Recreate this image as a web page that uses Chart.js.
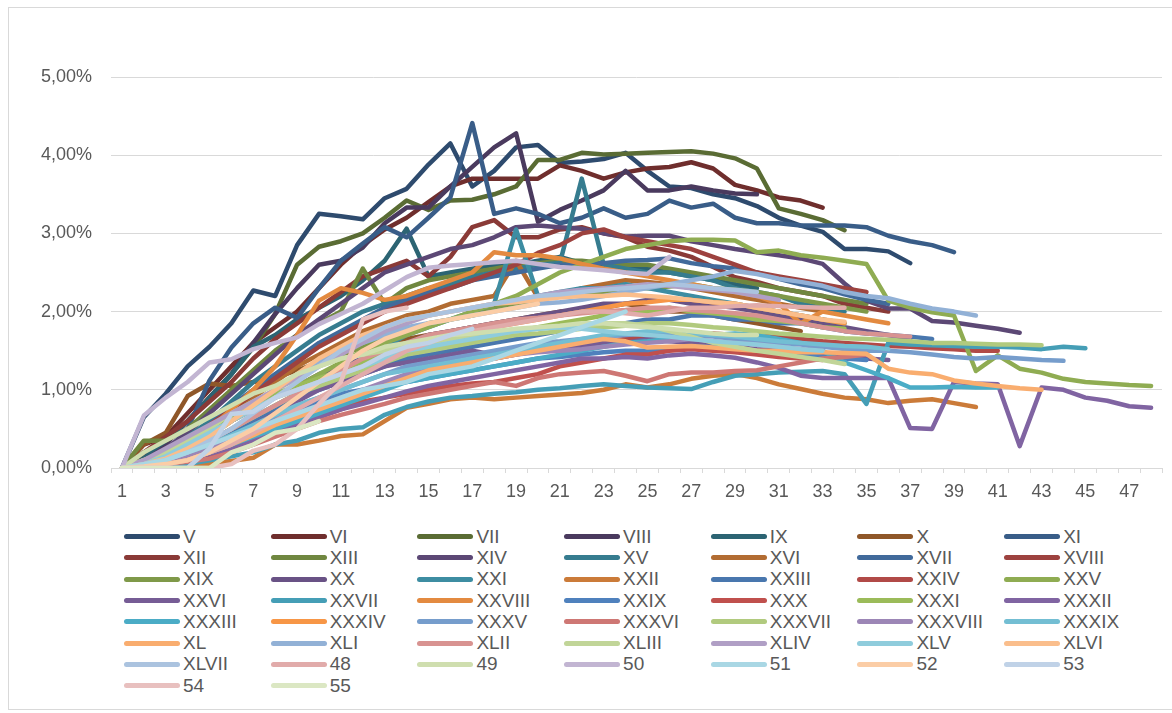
<!DOCTYPE html>
<html>
<head>
<meta charset="utf-8">
<script src="https://cdn.jsdelivr.net/npm/chart.js@4/dist/chart.umd.min.js"></script>
<style>
  body { margin: 0; background: #fff; font-family: "Liberation Sans", Arial, sans-serif; }
  #frame { position: absolute; left: 8px; top: 7px; width: 1170px; height: 703px; border: 1px solid #d9d9d9; box-sizing: border-box; }
  #wrap { position: absolute; left: 0; top: 0; width: 1172px; height: 505px; }
  #legend { position: absolute; left: 124px; top: 526px; display: grid; grid-template-columns: repeat(7, 146.7px); grid-auto-rows: 21.3px; }
  .item { display: flex; align-items: center; font-size: 19px; color: #595959; white-space: nowrap; }
  .swatch { display: inline-block; width: 56px; height: 5px; border-radius: 3px; margin-right: 3px; }
</style>
</head>
<body>
<div id="frame"></div>
<div id="wrap"><canvas id="chart"></canvas></div>
<div id="legend"></div>
<script>
// categorias del eje x
const categories = [];
for (let i = 1; i <= 48; i++) categories.push(String(i));

const seriesNames = ['V','VI','VII','VIII','IX','X','XI','XII','XIII','XIV','XV','XVI','XVII','XVIII','XIX','XX',
  'XXI','XXII','XXIII','XXIV','XXV','XXVI','XXVII','XXVIII','XXIX','XXX','XXXI','XXXII','XXXIII','XXXIV','XXXV',
  'XXXVI','XXXVII','XXXVIII','XXXIX','XL','XLI','XLII','XLIII','XLIV','XLV','XLVI','XLVII','48','49','50','51','52','53','54','55'];

// valores en %
const sV = [0,0.65,0.95,1.3,1.55,1.85,2.27,2.2,2.85,3.25,3.22,3.18,3.45,3.57,3.88,4.15,3.6,3.8,4.1,4.13,3.9,3.92,3.95,4.03,3.8,3.6,3.58,3.5,3.45,3.35,3.2,3.1,3.02,2.8,2.8,2.77,2.62];
const sVI = [0,0.3,0.4,0.7,1.0,1.3,1.6,1.8,2.0,2.3,2.6,2.85,3.05,3.2,3.4,3.6,3.7,3.7,3.7,3.7,3.87,3.8,3.7,3.78,3.83,3.85,3.91,3.83,3.62,3.55,3.46,3.42,3.33];
const sVII = [0,0.2,0.35,0.6,0.9,1.2,1.54,1.97,2.6,2.83,2.9,3.0,3.2,3.42,3.3,3.42,3.43,3.5,3.6,3.94,3.94,4.03,4.01,4.02,4.03,4.04,4.05,4.02,3.96,3.83,3.32,3.25,3.17,3.04];
const sVIII = [0,0.1,0.3,0.6,0.9,1.2,1.6,1.97,2.3,2.6,2.65,2.82,3.13,3.33,3.33,3.6,3.85,4.1,4.28,3.15,3.3,3.42,3.55,3.8,3.55,3.55,3.6,3.55,3.51,3.5];
const sIX = [0,0.15,0.35,0.6,0.9,1.2,1.55,1.7,1.9,2.05,2.2,2.4,2.65,3.06,2.45,2.5,2.55,2.6,2.6,2.65,2.7,2.62,2.6,2.58,2.55,2.5,2.45,2.4,2.35,2.3];
const sX = [0,0.3,0.45,0.92,1.08,1.05,1.1,1.15,1.25,1.35,1.45,1.55,1.6,1.65,1.7,1.75,1.8,1.85,1.9,1.95,2.0,2.0,2.05,2.1,2.05,2.0,2.0,1.95,1.9,1.85,1.8,1.75];
const sXI = [0,0.1,0.2,0.5,1.12,1.54,1.85,2.05,1.92,2.3,2.65,2.87,3.08,2.95,3.2,3.46,4.41,3.25,3.32,3.25,3.13,3.2,3.32,3.2,3.25,3.42,3.33,3.38,3.2,3.13,3.13,3.1,3.1,3.1,3.08,2.97,2.9,2.85,2.76];
const sXII = [0,0.2,0.4,0.6,0.85,1.1,1.4,1.65,1.85,2.05,2.25,2.45,2.55,2.65,2.45,2.7,3.08,3.17,2.95,2.95,3.05,3.08,3.0,2.95,2.83,2.78,2.7,2.57,2.44,2.38,2.3,2.25,2.2,2.1,2.05,2.0];
const sXIII = [0,0.35,0.35,0.5,0.75,1.0,1.25,1.5,1.7,1.85,2.0,2.55,2.1,2.3,2.4,2.45,2.5,2.55,2.6,2.62,2.65,2.65,2.62,2.6,2.6,2.55,2.5,2.45,2.4,2.35,2.3,2.25,2.2,2.15,2.1];
const sXIV = [0,0.1,0.25,0.45,0.7,0.95,1.2,1.45,1.7,1.9,2.1,2.3,2.5,2.6,2.7,2.8,2.85,2.95,3.08,3.1,3.08,3.06,3.0,2.96,2.97,2.97,2.9,2.85,2.8,2.76,2.72,2.68,2.61,2.36,2.14,2.04,2.04,1.88,1.86,1.82,1.78,1.73];
const sXV = [0,0.1,0.2,0.4,0.6,0.85,1.1,1.3,1.5,1.7,1.85,2.0,2.1,2.2,2.3,2.35,2.45,2.5,2.55,2.6,2.62,3.7,2.6,2.55,2.5,2.5,2.45,2.4,2.3,2.25,2.2,2.1,2.05,2.0];
const sXVI = [0,0.05,0.15,0.3,0.5,0.7,0.9,1.1,1.3,1.45,1.6,1.75,1.85,1.95,2.0,2.1,2.15,2.2,2.65,2.18,2.2,2.3,2.35,2.4,2.38,2.35,2.3,2.25,2.2,2.15,2.1,2.05,2.0];
const sXVII = [0,0.05,0.15,0.35,0.55,0.8,1.0,1.2,1.4,1.6,1.75,1.9,2.05,2.15,2.25,2.3,2.4,2.45,2.5,2.55,2.6,2.6,2.62,2.65,2.66,2.68,2.62,2.58,2.55,2.5,2.42,2.35,2.3,2.22,2.15,2.1];
const sXVIII = [0,0.1,0.2,0.35,0.55,0.75,0.95,1.15,1.35,1.55,1.7,1.85,2.0,2.1,2.2,2.3,2.4,2.5,2.6,2.75,2.85,3.0,3.05,2.95,2.9,2.85,2.8,2.7,2.6,2.5,2.45,2.4,2.35,2.3,2.25];
const sXIX = [0,0.05,0.1,0.25,0.4,0.6,0.8,1.0,1.15,1.3,1.45,1.55,1.65,1.75,1.85,1.9,1.95,2.05,2.1,2.15,2.2,2.22,2.25,2.3,2.3,2.32,2.35,2.3,2.28,2.25,2.2,2.15,2.1,2.05,2.0];
const sXX = [0,0.05,0.15,0.3,0.45,0.6,0.75,0.9,1.05,1.2,1.3,1.4,1.5,1.6,1.7,1.75,1.8,1.85,1.9,1.95,2.0,2.05,2.1,2.1,2.15,2.15,2.1,2.08,2.05,2.0,1.95,1.9,1.85,1.8,1.75,1.7,1.65];
const sXXI = [0,0.05,0.1,0.2,0.35,0.5,0.65,0.8,0.95,1.1,1.25,1.4,1.55,1.7,1.8,1.9,2.0,2.1,3.05,2.2,2.25,2.3,2.3,2.35,2.3,2.25,2.2,2.15,2.1,2.05,2.0,1.95,1.9,1.85];
const sXXII = [0,0,0.02,0.05,0.05,0.09,0.13,0.3,0.3,0.35,0.41,0.43,0.6,0.77,0.82,0.88,0.9,0.88,0.9,0.92,0.94,0.96,1.0,1.07,1.03,1.07,1.14,1.18,1.2,1.15,1.07,1.01,0.95,0.9,0.88,0.83,0.86,0.88,0.83,0.78];
const sXXIII = [0,0.05,0.1,0.2,0.3,0.45,0.6,0.75,0.9,1.0,1.1,1.2,1.3,1.4,1.45,1.5,1.55,1.6,1.65,1.7,1.75,1.8,1.85,1.85,1.9,1.9,1.95,1.95,1.9,1.9,1.85,1.85,1.8,1.75,1.72,1.7,1.68,1.65];
const sXXIV = [0,0.02,0.05,0.1,0.2,0.3,0.42,0.55,0.65,0.75,0.85,0.95,1.05,1.15,1.22,1.3,1.35,1.4,1.45,1.5,1.55,1.6,1.62,1.65,1.68,1.7,1.72,1.72,1.7,1.7,1.68,1.65,1.62,1.6,1.58,1.56,1.55,1.53,1.52,1.5,1.5];
const sXXV = [0,0.05,0.15,0.3,0.45,0.6,0.75,0.9,1.05,1.2,1.35,1.5,1.6,1.7,1.8,1.9,2.0,2.1,2.2,2.35,2.5,2.6,2.7,2.8,2.85,2.9,2.92,2.92,2.91,2.76,2.78,2.72,2.69,2.65,2.61,2.14,2.05,1.99,1.95,1.24,1.44,1.27,1.22,1.14,1.1,1.08,1.06,1.05];
const sXXVI = [0,0.02,0.08,0.15,0.25,0.4,0.55,0.7,0.85,1.0,1.1,1.2,1.3,1.35,1.4,1.45,1.5,1.45,1.5,1.55,1.5,1.55,1.6,1.6,1.65,1.62,1.6,1.58,1.55,1.52,1.5,1.48,1.45,1.42,1.4,1.38];
const sXXVII = [0,0,0.02,0.05,0.1,0.15,0.2,0.3,0.35,0.45,0.5,0.52,0.68,0.78,0.85,0.9,0.92,0.95,0.97,1.0,1.02,1.05,1.07,1.05,1.03,1.02,1.01,1.1,1.18,1.2,1.22,1.23,1.24,1.2,0.82,1.6,1.58,1.57,1.56,1.55,1.55,1.54,1.52,1.55,1.53];
const sXXVIII = [0,0.05,0.15,0.3,0.5,0.75,1.0,1.3,1.7,2.14,2.3,2.24,2.15,2.2,2.3,2.4,2.5,2.76,2.72,2.72,2.68,2.61,2.55,2.5,2.45,2.4,2.35,2.3,2.25,2.2,2.1,1.85,2.0,1.95,1.9,1.85];
const sXXIX = [0,0.02,0.05,0.1,0.2,0.3,0.45,0.6,0.75,0.85,0.95,1.0,1.05,1.1,1.15,1.2,1.25,1.3,1.35,1.4,1.42,1.45,1.48,1.5,1.5,1.52,1.55,1.55,1.5,1.48,1.45,1.45,1.42,1.4,1.38];
const sXXX = [0,0.02,0.05,0.1,0.15,0.25,0.35,0.45,0.55,0.65,0.75,0.85,0.9,0.95,1.0,1.05,1.08,1.1,1.15,1.2,1.3,1.35,1.4,1.45,1.45,1.5,1.52,1.5,1.48,1.45,1.42,1.4,1.38];
const sXXXI = [0,0.1,0.2,0.35,0.5,0.65,0.8,0.95,1.05,1.15,1.25,1.35,1.45,1.5,1.55,1.6,1.65,1.7,1.75,1.8,1.85,1.9,1.95,2.0,2.0,2.05,2.0,1.98,1.95,1.9,1.88,1.85,1.8,1.78];
const sXXXII = [0,0.02,0.05,0.1,0.18,0.25,0.35,0.45,0.55,0.65,0.75,0.82,0.9,0.98,1.05,1.1,1.15,1.2,1.25,1.3,1.35,1.4,1.4,1.42,1.4,1.44,1.46,1.44,1.41,1.35,1.28,1.18,1.15,1.15,1.15,1.15,0.51,0.5,1.1,1.08,1.07,0.28,1.03,1.0,0.9,0.86,0.79,0.77];
const sXXXIII = [0,0.02,0.05,0.1,0.2,0.3,0.4,0.5,0.6,0.7,0.8,0.9,1.0,1.1,1.15,1.2,1.25,1.3,1.35,1.4,1.45,1.5,1.55,1.6,1.62,1.65,1.68,1.7,1.72,1.7,1.65,1.6,1.5,1.35,1.25,1.15,1.03,1.03,1.04,1.03,1.03];
const sXXXIV = [0,0.05,0.15,0.3,0.45,0.6,0.75,0.9,1.0,1.1,1.2,1.3,1.4,1.5,1.6,1.7,1.75,1.8,1.85,1.9,1.95,2.0,2.05,2.1,2.12,2.15,2.15,2.12,2.1,2.05,2.0,1.95,1.9,1.85];
const sXXXV = [0,0.02,0.08,0.15,0.25,0.35,0.5,0.65,0.8,0.9,1.0,1.1,1.2,1.3,1.35,1.4,1.45,1.5,1.55,1.6,1.62,1.65,1.68,1.7,1.72,1.72,1.7,1.68,1.65,1.62,1.6,1.58,1.55,1.52,1.5,1.5,1.48,1.45,1.42,1.4,1.42,1.4,1.38,1.37];
const sXXXVI = [0,0.02,0.05,0.08,0.12,0.2,0.3,0.4,0.5,0.6,0.68,0.75,0.82,0.9,0.95,1.0,1.05,1.1,1.05,1.15,1.2,1.22,1.24,1.18,1.11,1.2,1.22,1.22,1.24,1.25,1.3,1.35,1.4,1.42,1.45];
const sXXXVII = [0,0.05,0.1,0.2,0.35,0.5,0.65,0.8,0.95,1.05,1.15,1.25,1.35,1.45,1.5,1.55,1.6,1.65,1.7,1.72,1.75,1.78,1.8,1.82,1.85,1.85,1.83,1.8,1.78,1.75,1.72,1.7,1.68,1.66,1.65,1.64,1.62,1.6,1.6,1.59,1.58,1.58,1.57];
const sXXXVIII = [0,0.02,0.08,0.15,0.25,0.35,0.5,0.6,0.7,0.8,0.9,1.0,1.1,1.2,1.25,1.3,1.35,1.4,1.45,1.48,1.5,1.52,1.55,1.58,1.6,1.62,1.65,1.62,1.6,1.58,1.55,1.52,1.5];
const sXXXIX = [0,0.05,0.12,0.2,0.3,0.42,0.55,0.68,0.8,0.9,1.0,1.1,1.2,1.25,1.3,1.35,1.4,1.45,1.5,1.55,1.6,1.65,1.7,1.72,1.75,1.75,1.72,1.7,1.68,1.65,1.62,1.6,1.58,1.56,1.55,1.52];
const sXL = [0,0.02,0.05,0.1,0.2,0.3,0.42,0.55,0.65,0.75,0.85,0.95,1.05,1.15,1.25,1.3,1.35,1.4,1.45,1.5,1.55,1.6,1.65,1.62,1.54,1.55,1.56,1.54,1.52,1.5,1.5,1.48,1.48,1.47,1.46,1.27,1.22,1.2,1.12,1.08,1.05,1.02,1.0];
const sXLI = [0,0.05,0.15,0.3,0.45,0.6,0.8,1.0,1.2,1.35,1.5,1.6,1.7,1.8,1.85,1.9,1.95,2.0,2.05,2.1,2.12,2.15,2.2,2.25,2.3,2.35,2.4,2.45,2.52,2.48,2.42,2.38,2.33,2.25,2.2,2.17,2.1,2.04,2.0,1.95];
const sXLII = [0,0.05,0.12,0.22,0.35,0.5,0.65,0.8,0.95,1.1,1.25,1.4,1.5,1.6,1.7,1.75,1.8,1.85,1.9,1.92,1.95,1.98,2.0,2.02,2.05,2.05,2.02,2.0,1.98,1.95,1.9,1.85,1.8,1.75,1.72,1.7,1.68];
const sXLIII = [0,0.1,0.2,0.35,0.5,0.7,0.85,1.0,1.15,1.3,1.4,1.45,1.5,1.55,1.6,1.65,1.7,1.72,1.75,1.78,1.8,1.82,1.85,1.85,1.82,1.75,1.68,1.6,1.55,1.5,1.46,1.42,1.38,1.33];
const sXLIV = [0,0.1,0.25,0.4,0.55,0.7,0.85,1.0,1.15,1.3,1.45,1.6,1.75,1.85,1.95,2.0,2.05,2.1,2.15,2.2,2.25,2.28,2.3,2.32,2.35,2.33,2.3,2.28,2.25,2.2,2.15];
const sXLV = [0,0.05,0.15,0.3,0.45,0.6,0.75,0.9,1.0,1.1,1.2,1.3,1.4,1.5,1.55,1.6,1.65,1.7,1.75,1.78,1.8,1.78,1.75,1.72,1.7,1.68,1.65,1.62,1.6,1.58,1.55,1.52,1.5];
const sXLVI = [0,0.05,0.12,0.25,0.4,0.6,0.8,1.0,1.2,1.4,1.55,1.7,1.8,1.9,1.95,2.0,2.05,2.1,2.12,2.15,2.18,2.2,2.2,2.22,2.2,2.18,2.15,2.12,2.1,2.05,2.0,1.95,1.9,1.87];
const sXLVII = [0,0.05,0.1,0.2,0.35,0.5,0.7,0.9,1.1,1.3,1.5,1.65,1.8,1.9,1.95,2.0,2.05,2.1,2.15,2.2,2.22,2.25,2.28,2.3,2.32,2.35,2.33,2.3,2.28,2.25];
const s48 = [0,0.02,0.05,0.1,0.2,0.3,0.45,0.6,0.75,0.9,1.05,1.2,1.35,1.5,1.6,1.7,1.75,1.8,1.85,1.9,1.95,2.0,2.0,1.98,1.95,2.0,2.05,2.05,2.07,2.08,2.07,2.06,2.05,2.05];
const s49 = [0,0.2,0.35,0.5,0.65,0.8,0.95,1.05,1.2,1.3,1.4,1.45,1.55,1.6,1.65,1.7,1.72,1.75,1.78,1.8,1.82,1.85,1.85,1.82,1.8,1.78,1.75,1.72,1.7,1.7];
const s50 = [0,0.67,0.9,1.1,1.35,1.39,1.52,1.6,1.67,1.84,1.97,2.1,2.27,2.44,2.56,2.59,2.61,2.63,2.65,2.61,2.57,2.55,2.53,2.5,2.48,2.7];
const s51 = [0,0.05,0.1,0.2,0.3,0.4,0.5,0.6,0.7,0.8,0.9,1.0,1.05,1.1,1.2,1.25,1.3,1.4,1.5,1.6,1.7,1.8,1.9,2.0];
const s52 = [0,0.02,0.05,0.1,0.2,0.35,0.5,0.7,0.9,1.1,1.3,1.5,1.65,1.75,1.85,1.9,1.95,2.0,2.05,2.1];
const s53 = [0,0,0,0,0.25,0.69,0.72,0.9,1.0,1.1,1.2,1.3,1.45,1.55,1.6,1.7,1.78];
const s54 = [0,0,0,0,0,0.05,0.22,0.3,0.5,0.82,1.1,1.9,2.0,2.05];
const s55 = [0,0,0,0,0,0.2,0.3,0.45,0.5,0.6];

const seriesValues = [sV,sVI,sVII,sVIII,sIX,sX,sXI,sXII,sXIII,sXIV,sXV,sXVI,sXVII,sXVIII,sXIX,sXX,sXXI,sXXII,sXXIII,sXXIV,
  sXXV,sXXVI,sXXVII,sXXVIII,sXXIX,sXXX,sXXXI,sXXXII,sXXXIII,sXXXIV,sXXXV,sXXXVI,sXXXVII,sXXXVIII,sXXXIX,sXL,sXLI,sXLII,
  sXLIII,sXLIV,sXLV,sXLVI,sXLVII,s48,s49,s50,s51,s52,s53,s54,s55];

const yTicks = [0, 1, 2, 3, 4, 5];

// colores tipo Office: 6 acentos, oscuros -> claros
const accents = ['#4F81BD', '#C0504D', '#9BBB59', '#8064A2', '#4BACC6', '#F79646'];
const shade = [0.58, 0.72, 0.82, 0.92, 1, 0.22, 0.38, 0.52, 0.64];
function seriesColor(i) {
  const hex = accents[i % 6];
  const g = Math.floor(i / 6);
  const rgb = [1, 3, 5].map(p => parseInt(hex.substr(p, 2), 16));
  const out = rgb.map(c => g <= 4 ? Math.round(c * shade[g]) : Math.round(c + (255 - c) * shade[g]));
  return 'rgb(' + out.join(',') + ')';
}

const N = seriesNames.length;
const datasets = seriesNames.map((name, i) => ({
  label: name,
  data: seriesValues[i],
  borderColor: seriesColor(i),
  backgroundColor: seriesColor(i),
  borderWidth: 4.5,
  pointRadius: 0,
  tension: 0,
  borderJoinStyle: 'round',
  borderCapStyle: 'round',
  order: N - i
}));

const axisFont = { family: '"Liberation Sans", Arial, sans-serif', size: 18 };

const chart = new Chart(document.getElementById('chart'), {
  type: 'line',
  data: { labels: categories, datasets: datasets },
  options: {
    responsive: true,
    maintainAspectRatio: false,
    animation: false,
    layout: { padding: { top: 77, right: 10, left: 0, bottom: 0 } },
    plugins: { legend: { display: false }, tooltip: { enabled: false } },
    scales: {
      x: {
        offset: true,
        grid: { offset: true, drawOnChartArea: false, drawTicks: true, tickLength: 5, color: '#d9d9d9' },
        border: { color: '#d9d9d9' },
        ticks: {
          autoSkip: false, maxRotation: 0, padding: 8, color: '#595959', font: axisFont,
          callback: function(v, idx) { return idx % 2 === 0 ? this.getLabelForValue(v) : ''; }
        },
        afterFit: s => { s.height = 37; }
      },
      y: {
        min: 0, max: 5,
        afterBuildTicks: s => { s.ticks = yTicks.map(v => ({ value: v })); },
        grid: { color: '#d9d9d9', drawTicks: false },
        border: { display: false },
        ticks: {
          padding: 19, color: '#595959', font: axisFont,
          callback: v => v.toFixed(2).replace('.', ',') + '%'
        },
        afterFit: s => { s.width = 111; }
      }
    }
  }
});

// leyenda en 7 columnas
const legend = document.getElementById('legend');
chart.data.datasets.forEach(ds => {
  const item = document.createElement('div');
  item.className = 'item';
  item.innerHTML = '<span class="swatch" style="background:' + ds.borderColor + '"></span>' + ds.label;
  legend.appendChild(item);
});
</script>
</body>
</html>
